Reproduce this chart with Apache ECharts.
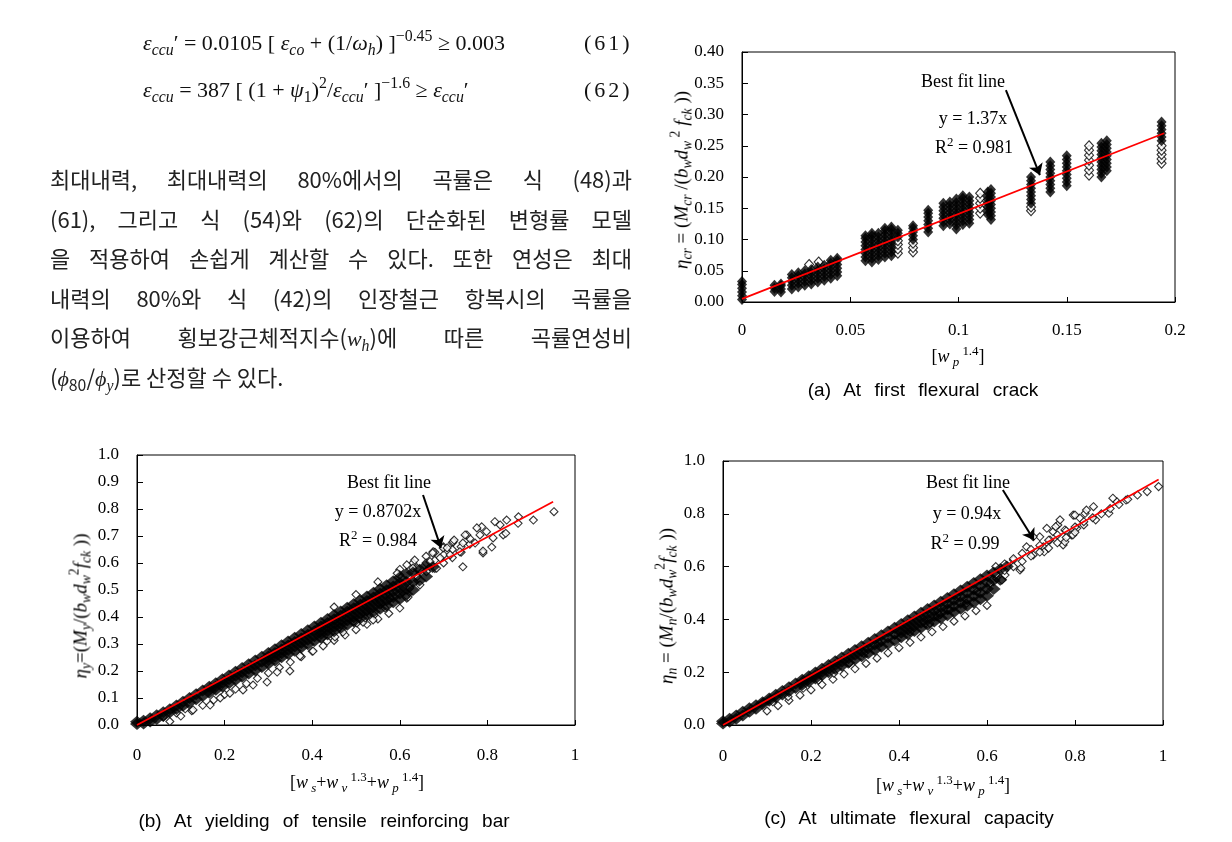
<!DOCTYPE html>
<html>
<head>
<meta charset="utf-8">
<script src="https://cdn.jsdelivr.net/npm/echarts@6/dist/echarts.min.js"></script>
<style>
  html, body { margin: 0; padding: 0; background: #fff; }
  #page { position: relative; width: 1232px; height: 842px; overflow: hidden; }
  #chart { position: absolute; left: 0; top: 0; width: 1232px; height: 842px; }
  .t { position: absolute; white-space: nowrap; transform: translate(-50%, -50%); line-height: 1; color: #000; pointer-events: none; }
  .serif { font-family: "Liberation Serif", "DejaVu Serif", serif; font-size: 18px; }
  .yname { font-size: 19px; }
  .sans { font-family: "Liberation Sans", Arial, sans-serif; font-size: 19px; word-spacing: 8px; }
  .rot { transform: translate(-50%, -50%) rotate(-90deg); }
  sub { font-size: 0.72em; vertical-align: -0.3em; line-height: 0; }
  sup { font-size: 0.72em; vertical-align: 0.55em; line-height: 0; }
  .eq { position: absolute; white-space: nowrap; font-family: "Liberation Serif", "DejaVu Serif", serif; font-size: 22px; line-height: 28px; color: #111; }
  .eqn { letter-spacing: 3px; }
  .kr { position: absolute; left: 50px; width: 582px; font-family: "Noto Sans CJK KR", sans-serif; font-size: 22px;
        line-height: 28px; color: #222; text-align: justify; text-align-last: justify; white-space: nowrap; }
  .kr.last { text-align-last: left; }
  .kr i { font-family: "Liberation Serif", serif; }
</style>
</head>
<body>
<div id="page">
  <div id="chart"></div>

  <!-- 수식 -->
  <div class="eq" style="left:143px; top:29px;"><i>ε</i><sub><i>ccu</i></sub>′ = 0.0105 [ <i>ε</i><sub><i>co</i></sub> + (1/<i>ω</i><sub><i>h</i></sub>) ]<sup>−0.45</sup> ≥ 0.003</div>
  <div class="eq eqn" style="left:584px; top:29px;">(61)</div>
  <div class="eq" style="left:143px; top:76px;"><i>ε</i><sub><i>ccu</i></sub> = 387 [ (1 + <i>ψ</i><sub>1</sub>)<sup>2</sup>/<i>ε</i><sub><i>ccu</i></sub>′ ]<sup>−1.6</sup> ≥ <i>ε</i><sub><i>ccu</i></sub>′</div>
  <div class="eq eqn" style="left:584px; top:76px;">(62)</div>

  <!-- 본문 -->
  <div class="kr" style="top:164px;">최대내력, 최대내력의 80%에서의 곡률은 식 (48)과</div>
  <div class="kr" style="top:204px;">(61), 그리고 식 (54)와 (62)의 단순화된 변형률 모델</div>
  <div class="kr" style="top:243px;">을 적용하여 손쉽게 계산할 수 있다. 또한 연성은 최대</div>
  <div class="kr" style="top:283px;">내력의 80%와 식 (42)의 인장철근 항복시의 곡률을</div>
  <div class="kr" style="top:322px;">이용하여 횡보강근체적지수(<i>w<sub>h</sub></i>)에 따른 곡률연성비</div>
  <div class="kr last" style="top:362px;">(<i>ϕ</i><sub>80</sub>/<i>ϕ<sub>y</sub></i>)로 산정할 수 있다.</div>

  <!-- (a) -->
  <div class="t serif yname rot" style="left:681px; top:180px;"><i>η<sub>cr</sub></i> = (<i>M<sub>cr</sub></i> /(<i>b<sub>w</sub>d<sub>w</sub></i><sup> 2</sup> <i>f<sub>ck</sub></i> ))</div>
  <div class="t serif" style="left:958px; top:356px;">[<i>w<sub> p</sub></i><sup> 1.4</sup>]</div>
  <div class="t sans" style="left:923px; top:389px;">(a) At first flexural crack</div>
  <div class="t serif" style="left:963px; top:81px;">Best fit line</div>
  <div class="t serif" style="left:973px; top:118px;">y = 1.37x</div>
  <div class="t serif" style="left:974px; top:147px;">R<sup>2</sup> = 0.981</div>

  <!-- (b) -->
  <div class="t serif yname rot" style="left:80px; top:606px;"><i>η<sub>y</sub></i>=(<i>M<sub>y</sub></i>/(<i>b<sub>w</sub>d<sub>w</sub></i><sup>2</sup><i>f<sub>ck</sub></i> ))</div>
  <div class="t serif" style="left:357px; top:782px;">[<i>w<sub> s</sub></i>+<i>w<sub> v</sub></i><sup> 1.3</sup>+<i>w<sub> p</sub></i><sup> 1.4</sup>]</div>
  <div class="t sans" style="left:324px; top:820px;">(b) At yielding of tensile reinforcing bar</div>
  <div class="t serif" style="left:389px; top:482px;">Best fit line</div>
  <div class="t serif" style="left:378px; top:511px;">y = 0.8702x</div>
  <div class="t serif" style="left:378px; top:540px;">R<sup>2</sup> = 0.984</div>

  <!-- (c) -->
  <div class="t serif yname rot" style="left:666px; top:606px;"><i>η<sub>n</sub></i> = (<i>M<sub>n</sub></i>/(<i>b<sub>w</sub>d<sub>w</sub></i><sup>2</sup><i>f<sub>ck</sub></i> ))</div>
  <div class="t serif" style="left:943px; top:785px;">[<i>w<sub> s</sub></i>+<i>w<sub> v</sub></i><sup> 1.3</sup>+<i>w<sub> p</sub></i><sup> 1.4</sup>]</div>
  <div class="t sans" style="left:909px; top:817px;">(c) At ultimate flexural capacity</div>
  <div class="t serif" style="left:968px; top:482px;">Best fit line</div>
  <div class="t serif" style="left:967px; top:513px;">y = 0.94x</div>
  <div class="t serif" style="left:965px; top:543px;">R<sup>2</sup> = 0.99</div>
</div>

<script>
// ---- (a) 초기 휨균열: 열(column)별 데이터 ----
var aFillX = [0, 0.015, 0.018, 0.023, 0.026, 0.029, 0.032, 0.035, 0.038, 0.041, 0.044,
              0.057, 0.060, 0.063, 0.066, 0.069, 0.072, 0.079, 0.086, 0.093, 0.096, 0.099, 0.102, 0.105,
              0.1135, 0.115, 0.1335, 0.1424, 0.150, 0.166, 0.1685, 0.1938];
var aFillY = [
  [0.004, 0.010, 0.016, 0.022, 0.028, 0.033],
  [0.017, 0.022, 0.027],
  [0.016, 0.021, 0.026, 0.029],
  [0.021, 0.027, 0.033, 0.039, 0.044],
  [0.024, 0.030, 0.036, 0.042, 0.047],
  [0.027, 0.033, 0.039, 0.045, 0.050],
  [0.029, 0.035, 0.041, 0.047, 0.052],
  [0.032, 0.038, 0.044, 0.050, 0.056],
  [0.035, 0.041, 0.047, 0.053, 0.059],
  [0.038, 0.044, 0.050, 0.056, 0.062, 0.067],
  [0.042, 0.048, 0.054, 0.060, 0.066, 0.070],
  [0.066, 0.072, 0.078, 0.084, 0.090, 0.096, 0.102, 0.106],
  [0.064, 0.070, 0.076, 0.082, 0.088, 0.094, 0.100, 0.106, 0.110],
  [0.068, 0.074, 0.080, 0.086, 0.092, 0.098, 0.104, 0.110],
  [0.072, 0.078, 0.084, 0.090, 0.096, 0.102, 0.108, 0.114, 0.118],
  [0.074, 0.080, 0.086, 0.092, 0.098, 0.104, 0.110, 0.116, 0.120],
  [0.104, 0.110, 0.115],
  [0.100, 0.106, 0.112, 0.118, 0.122],
  [0.112, 0.118, 0.124, 0.130, 0.136, 0.142, 0.147],
  [0.122, 0.128, 0.134, 0.140, 0.146, 0.152, 0.158],
  [0.125, 0.131, 0.137, 0.143, 0.149, 0.155, 0.160],
  [0.117, 0.123, 0.129, 0.135, 0.141, 0.147, 0.153, 0.159, 0.165],
  [0.124, 0.130, 0.136, 0.142, 0.148, 0.154, 0.160, 0.166, 0.170],
  [0.126, 0.132, 0.138, 0.144, 0.150, 0.156, 0.162, 0.168],
  [0.140, 0.146, 0.152, 0.158, 0.164, 0.170, 0.176],
  [0.132, 0.138, 0.144, 0.150, 0.156, 0.162, 0.168, 0.174, 0.180],
  [0.158, 0.164, 0.170, 0.176, 0.182, 0.188, 0.194, 0.200],
  [0.176, 0.182, 0.188, 0.194, 0.200, 0.206, 0.212, 0.218, 0.224],
  [0.186, 0.192, 0.198, 0.204, 0.210, 0.216, 0.222, 0.228, 0.234],
  [0.200, 0.206, 0.212, 0.218, 0.224, 0.230, 0.236, 0.242, 0.248, 0.254],
  [0.210, 0.216, 0.222, 0.228, 0.234, 0.240, 0.246, 0.252, 0.258],
  [0.258, 0.264, 0.270, 0.276, 0.282, 0.288]
];
var aHollowX = [0.031, 0.0354, 0.072, 0.079, 0.110, 0.1335, 0.1603, 0.1938];
var aHollowY = [
  [0.060], [0.064],
  [0.078, 0.085, 0.092, 0.098],
  [0.080, 0.087, 0.094],
  [0.142, 0.150, 0.158, 0.166, 0.174],
  [0.146, 0.152],
  [0.203, 0.211, 0.219, 0.227, 0.235, 0.243, 0.250],
  [0.222, 0.229, 0.236, 0.243, 0.250]
];
var aFit = [[0, 0.005], [0.195, 0.27]];
var aArrow = [[0.1219, 0.339], [0.1376, 0.203]];

// ---- (b) 인장철근 항복시 ----
var bCoreX = [0, 0.015, 0.03, 0.045, 0.06, 0.075, 0.09, 0.105, 0.12, 0.135, 0.15, 0.165, 0.18, 0.195,
              0.21, 0.225, 0.24, 0.255, 0.27, 0.285, 0.3, 0.315, 0.33, 0.345, 0.36, 0.375, 0.39, 0.405,
              0.42, 0.435, 0.45, 0.465, 0.48, 0.495, 0.51, 0.525, 0.54, 0.555, 0.57, 0.585, 0.6, 0.615, 0.63,
              0.645, 0.66, 0.675];
var bCoreY = [
  [0.004, 0.012], [0.006, 0.016], [0.013, 0.025], [0.022, 0.036], [0.033, 0.047], [0.047, 0.058],
  [0.059, 0.072], [0.071, 0.086],
  [0.083, 0.1], [0.095, 0.114], [0.107, 0.1275], [0.119, 0.13, 0.1415], [0.131, 0.143, 0.155],
  [0.143, 0.156, 0.169], [0.155, 0.169, 0.183], [0.167, 0.182, 0.197], [0.179, 0.195, 0.211],
  [0.191, 0.208, 0.225], [0.203, 0.221, 0.239], [0.215, 0.234, 0.253],
  [0.227, 0.24, 0.254, 0.267], [0.239, 0.253, 0.267, 0.281], [0.251, 0.266, 0.28, 0.295],
  [0.263, 0.278, 0.294, 0.309], [0.275, 0.291, 0.307, 0.323], [0.287, 0.304, 0.32, 0.337],
  [0.299, 0.316, 0.334, 0.351], [0.311, 0.329, 0.347, 0.365],
  [0.323, 0.337, 0.351, 0.365, 0.379], [0.335, 0.349, 0.364, 0.378, 0.393],
  [0.347, 0.362, 0.377, 0.392, 0.407], [0.359, 0.374, 0.39, 0.405, 0.42],
  [0.371, 0.387, 0.403, 0.419, 0.434], [0.383, 0.399, 0.416, 0.432, 0.448],
  [0.395, 0.412, 0.429, 0.445, 0.462], [0.407, 0.424, 0.442, 0.459, 0.476],
  [0.419, 0.437, 0.455, 0.472, 0.49], [0.431, 0.449, 0.467, 0.486, 0.504],
  [0.443, 0.462, 0.48, 0.499, 0.518], [0.455, 0.474, 0.494, 0.513, 0.532],
  [0.467, 0.487, 0.506, 0.526, 0.546], [0.485, 0.505, 0.53, 0.56],
  [0.5, 0.53, 0.565], [0.535, 0.575], [0.55, 0.59], [0.585]
];
var bOut = [
  [0.075, 0.013], [0.1, 0.033], [0.125, 0.053], [0.15, 0.073], [0.175, 0.093], [0.2, 0.113],
  [0.225, 0.133], [0.25, 0.153], [0.275, 0.173], [0.3, 0.193], [0.325, 0.213], [0.35, 0.233],
  [0.375, 0.253], [0.4, 0.273], [0.425, 0.293], [0.45, 0.313], [0.475, 0.333], [0.5, 0.353],
  [0.525, 0.373], [0.55, 0.393], [0.575, 0.413], [0.6, 0.433],
  [0.06, 0.03], [0.09, 0.045], [0.11, 0.06], [0.128, 0.056], [0.167, 0.074], [0.19, 0.1],
  [0.212, 0.118], [0.242, 0.13], [0.265, 0.148], [0.297, 0.159], [0.32, 0.196], [0.349, 0.2],
  [0.372, 0.256], [0.402, 0.274], [0.434, 0.311], [0.452, 0.326], [0.47, 0.344], [0.502, 0.378],
  [0.516, 0.381], [0.541, 0.407], [0.494, 0.383], [0.521, 0.396], [0.539, 0.389], [0.524, 0.42],
  [0.555, 0.457], [0.566, 0.433], [0.578, 0.47], [0.616, 0.47], [0.619, 0.474], [0.614, 0.475],
  [0.45, 0.437], [0.5, 0.483], [0.55, 0.53], [0.6, 0.576], [0.63, 0.6], [0.66, 0.625],
  [0.68, 0.64], [0.7, 0.66], [0.72, 0.675],
  [0.64, 0.55], [0.64, 0.58], [0.66, 0.57], [0.66, 0.6], [0.68, 0.58], [0.68, 0.61],
  [0.7, 0.6], [0.7, 0.63], [0.72, 0.62], [0.72, 0.65], [0.74, 0.64], [0.74, 0.66],
  [0.76, 0.67], [0.76, 0.69],
  [0.6, 0.556], [0.616, 0.593], [0.63, 0.581], [0.623, 0.507], [0.646, 0.519], [0.661, 0.568],
  [0.669, 0.605], [0.676, 0.642], [0.684, 0.581], [0.692, 0.619], [0.699, 0.656], [0.715, 0.63],
  [0.722, 0.679], [0.737, 0.642], [0.744, 0.674], [0.744, 0.586], [0.753, 0.704], [0.772, 0.674],
  [0.783, 0.704], [0.787, 0.734], [0.79, 0.637], [0.798, 0.716], [0.813, 0.693], [0.829, 0.741],
  [0.836, 0.704], [0.844, 0.759], [0.871, 0.771], [0.905, 0.759], [0.952, 0.79], [0.87, 0.747],
  [0.842, 0.71], [0.817, 0.753], [0.776, 0.73], [0.749, 0.704], [0.724, 0.685], [0.708, 0.656],
  [0.675, 0.637], [0.634, 0.611], [0.594, 0.562], [0.79, 0.644], [0.81, 0.659]
];
var bFit = [[0, 0], [0.95, 0.827]];
var bArrow = [[0.653, 0.852], [0.694, 0.656]];

// ---- (c) 최대 휨내력 ----
var cCoreX = [0, 0.015, 0.03, 0.045, 0.06, 0.075, 0.09, 0.105, 0.12, 0.135, 0.15, 0.165, 0.18, 0.195,
              0.21, 0.225, 0.24, 0.255, 0.27, 0.285, 0.3, 0.315, 0.33, 0.345, 0.36, 0.375, 0.39, 0.405,
              0.42, 0.435, 0.45, 0.465, 0.48, 0.495, 0.51, 0.525, 0.54, 0.555, 0.57, 0.585, 0.6,
              0.615, 0.63, 0.645];
var cCoreY = [
  [0.006, 0.014], [0.012, 0.024], [0.024, 0.036], [0.036, 0.05], [0.05, 0.063], [0.062, 0.075],
  [0.08, 0.0866], [0.092, 0.1007],
  [0.104, 0.1148], [0.116, 0.1289], [0.128, 0.143], [0.14, 0.157], [0.152, 0.1615, 0.171],
  [0.164, 0.1745, 0.185], [0.176, 0.1877, 0.199], [0.188, 0.2008, 0.2135], [0.2, 0.2138, 0.2276],
  [0.212, 0.227, 0.2417], [0.224, 0.24, 0.2558], [0.236, 0.253, 0.27], [0.248, 0.266, 0.284],
  [0.26, 0.279, 0.298], [0.272, 0.292, 0.312], [0.284, 0.305, 0.326], [0.296, 0.318, 0.34],
  [0.308, 0.331, 0.3545], [0.32, 0.3443, 0.3686], [0.332, 0.349, 0.366, 0.3827],
  [0.344, 0.3616, 0.379, 0.397], [0.356, 0.374, 0.3925, 0.411], [0.368, 0.387, 0.406, 0.425],
  [0.38, 0.4, 0.4195, 0.439], [0.392, 0.4125, 0.433, 0.453], [0.404, 0.425, 0.446, 0.4673],
  [0.416, 0.438, 0.46, 0.4814], [0.428, 0.4505, 0.473, 0.4955], [0.44, 0.463, 0.4865, 0.5096],
  [0.452, 0.476, 0.4998, 0.5237], [0.464, 0.4886, 0.513, 0.5378], [0.476, 0.5013, 0.5266, 0.5519],
  [0.49, 0.516, 0.542, 0.566], [0.515, 0.548, 0.578], [0.55, 0.59], [0.6]
];
var cOut = [
  [0.1, 0.053], [0.125, 0.073], [0.15, 0.093], [0.175, 0.113], [0.2, 0.133], [0.225, 0.153],
  [0.25, 0.173], [0.275, 0.193], [0.3, 0.213], [0.325, 0.233], [0.35, 0.253], [0.375, 0.273],
  [0.4, 0.293], [0.425, 0.313], [0.45, 0.333], [0.475, 0.353], [0.5, 0.373], [0.525, 0.393],
  [0.55, 0.413], [0.575, 0.433], [0.6, 0.453],
  [0.113, 0.088], [0.148, 0.107], [0.182, 0.139], [0.217, 0.17], [0.252, 0.196], [0.287, 0.234],
  [0.32, 0.271], [0.356, 0.309], [0.391, 0.341], [0.425, 0.353], [0.46, 0.385], [0.455, 0.391],
  [0.47, 0.385], [0.486, 0.41], [0.493, 0.417], [0.512, 0.436], [0.516, 0.436], [0.531, 0.486],
  [0.552, 0.461], [0.554, 0.461], [0.577, 0.505], [0.607, 0.537], [0.622, 0.555], [0.634, 0.549],
  [0.641, 0.568], [0.66, 0.625], [0.675, 0.587], [0.677, 0.594], [0.69, 0.675], [0.705, 0.644],
  [0.72, 0.713], [0.728, 0.675], [0.73, 0.656], [0.743, 0.701], [0.75, 0.732], [0.761, 0.758],
  [0.773, 0.682], [0.777, 0.694], [0.777, 0.739], [0.792, 0.72], [0.795, 0.72], [0.804, 0.745],
  [0.811, 0.784], [0.82, 0.758], [0.823, 0.802], [0.842, 0.827], [0.847, 0.777], [0.877, 0.802],
  [0.895, 0.846], [0.916, 0.852], [0.942, 0.871], [0.964, 0.884], [0.99, 0.903],
  [0.705, 0.713], [0.736, 0.745], [0.766, 0.777], [0.796, 0.795], [0.826, 0.814], [0.756, 0.751],
  [0.8, 0.795], [0.886, 0.859],
  [0.62, 0.6], [0.62, 0.57], [0.64, 0.61], [0.64, 0.585], [0.66, 0.63], [0.66, 0.6],
  [0.68, 0.65], [0.68, 0.62], [0.7, 0.665], [0.7, 0.64], [0.72, 0.68], [0.72, 0.655],
  [0.74, 0.7], [0.74, 0.67], [0.76, 0.72], [0.76, 0.69], [0.78, 0.735], [0.78, 0.71],
  [0.8, 0.75], [0.8, 0.73], [0.82, 0.77], [0.84, 0.785], [0.86, 0.8], [0.88, 0.82],
  [0.9, 0.835], [0.92, 0.855]
];
var cFit = [[0, 0], [0.99, 0.93]];
var cArrow = [[0.636, 0.89], [0.707, 0.70]];

// 열 데이터 -> [x, y] 점
function cols(xs, ys) {
  var out = [];
  xs.forEach(function (x, i) {
    ys[i].forEach(function (y) { out.push([x, y]); });
  });
  return out;
}

var serif = 'Liberation Serif';

function xAx(gi, max, interval, margin) {
  return {
    gridIndex: gi, type: 'value', min: 0, max: max, interval: interval,
    axisLine: { show: true, onZero: false, lineStyle: { color: '#000', width: 1 } },
    axisTick: { show: true, inside: true, length: 5, lineStyle: { color: '#000' } },
    axisLabel: { margin: margin, color: '#000', fontFamily: serif, fontSize: 17 },
    splitLine: { show: false }
  };
}
function yAx(gi, max, interval, digits) {
  return {
    gridIndex: gi, type: 'value', min: 0, max: max, interval: interval,
    axisLine: { show: true, onZero: false, lineStyle: { color: '#000', width: 1 } },
    axisTick: { show: true, inside: true, length: 6, lineStyle: { color: '#000' } },
    axisLabel: { margin: 18, color: '#000', fontFamily: serif, fontSize: 17,
                 formatter: function (v) { return v.toFixed(digits); } },
    splitLine: { show: false }
  };
}
// 채운 마름모(밀집 영역)는 빈 마름모 위에 그림
function filled(gi, data, size) {
  return { type: 'scatter', xAxisIndex: gi, yAxisIndex: gi, data: data, symbol: 'diamond',
           symbolSize: size, itemStyle: { color: '#000' }, silent: true, z: 3 };
}
function hollow(gi, data, size) {
  return { type: 'scatter', xAxisIndex: gi, yAxisIndex: gi, data: data, symbol: 'diamond',
           symbolSize: size, itemStyle: { color: '#fff', borderColor: '#000', borderWidth: 1.1 },
           silent: true, z: 2 };
}
function fit(gi, data, arrow) {
  return {
    type: 'line', xAxisIndex: gi, yAxisIndex: gi, data: data, symbol: 'none', silent: true, z: 5,
    lineStyle: { color: '#ff0000', width: 1.8 },
    markLine: {
      silent: true, symbol: ['none', 'arrow'], symbolSize: 11, animation: false,
      label: { show: false },
      lineStyle: { color: '#000', width: 2, type: 'solid' },
      data: [[{ coord: arrow[0] }, { coord: arrow[1] }]]
    }
  };
}

var chart = echarts.init(document.getElementById('chart'));
chart.setOption({
  animation: false,
  backgroundColor: '#fff',
  grid: [
    { left: 742, top: 52, width: 433, height: 250, show: true, borderColor: '#000', borderWidth: 1, backgroundColor: 'transparent' },
    { left: 137, top: 455, width: 438, height: 270, show: true, borderColor: '#000', borderWidth: 1, backgroundColor: 'transparent' },
    { left: 723, top: 461, width: 440, height: 264, show: true, borderColor: '#000', borderWidth: 1, backgroundColor: 'transparent' }
  ],
  xAxis: [xAx(0, 0.2, 0.05, 20), xAx(1, 1, 0.2, 22), xAx(2, 1, 0.2, 23)],
  yAxis: [yAx(0, 0.4, 0.05, 2), yAx(1, 1, 0.1, 1), yAx(2, 1, 0.2, 1)],
  series: [
    filled(0, cols(aFillX, aFillY), [10, 11]),
    hollow(0, cols(aHollowX, aHollowY), [9, 10]),
    fit(0, aFit, aArrow),
    filled(1, cols(bCoreX, bCoreY), [14, 12]),
    hollow(1, bOut, [8, 8]),
    fit(1, bFit, bArrow),
    filled(2, cols(cCoreX, cCoreY), [14, 12]),
    hollow(2, cOut, [8, 8]),
    fit(2, cFit, cArrow)
  ]
});
</script>
</body>
</html>
